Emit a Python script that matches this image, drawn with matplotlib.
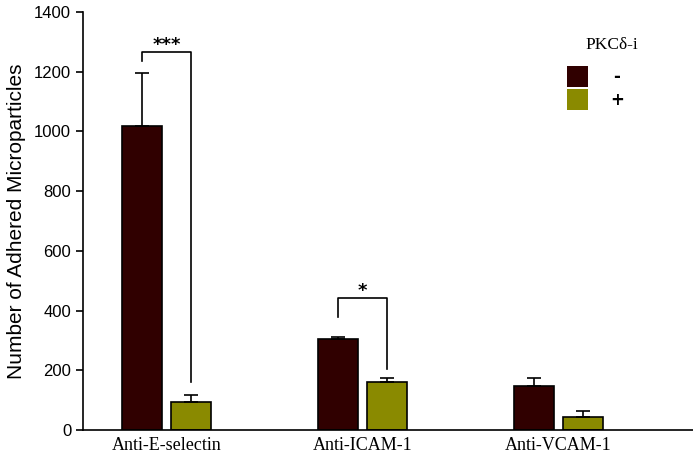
import matplotlib.pyplot as plt
import numpy as np

categorias = ['Anti-E-selectin', 'Anti-ICAM-1', 'Anti-VCAM-1']
sem_inibidor = [1018, 305, 148]
erro_sem = [178, 5, 27]
com_inibidor = [95, 160, 45]
erro_com = [22, 15, 18]
# comparações: (grupo, altura do topo, base esquerda, base direita, rótulo)
significancia = [(0, 1265, 1235, 160, '***'), (1, 442, 378, 204, '*')]

cor_escura = '#300000'
cor_oliva = '#8a8a00'

fig = plt.figure(figsize=(6.93, 4.54), dpi=100)
ax = fig.add_axes([0.1198, 0.0529, 0.8802, 0.9207])

x = np.arange(len(categorias))
larg = 0.204
desl = 0.125

ax.bar(x - desl, sem_inibidor, larg, color=cor_escura, edgecolor='black', linewidth=1.2,
       yerr=[np.zeros(3), erro_sem], error_kw=dict(ecolor='black', elinewidth=1.2, capsize=5, capthick=1.2))
ax.bar(x + desl, com_inibidor, larg, color=cor_oliva, edgecolor='black', linewidth=1.2,
       yerr=[np.zeros(3), erro_com], error_kw=dict(ecolor='black', elinewidth=1.2, capsize=5, capthick=1.2))

for g, topo, base_e, base_d, rot in significancia:
    xe, xd = g - desl, g + desl
    ax.plot([xe, xe, xd, xd], [base_e, topo, topo, base_d], color='black', lw=1.2)
    ax.text(g, topo - 5, rot, ha='center', va='bottom', fontsize=13, fontweight='bold')

ax.set_xlim(-0.426, 2.686)
ax.set_ylim(0, 1400)
ax.set_yticks(range(0, 1401, 200))
ax.set_xticks(x)
ax.set_xticklabels(categorias, family='Liberation Serif', fontsize=13)
ax.tick_params(axis='x', length=0, pad=5)
ax.tick_params(axis='y', length=5, width=1.2, labelsize=12)
for lbl in ax.get_yticklabels():
    lbl.set_family('Liberation Sans')
ax.spines['top'].set_visible(False)
ax.spines['right'].set_visible(False)
ax.spines['left'].set_linewidth(1.2)
ax.spines['bottom'].set_linewidth(1.2)
ax.set_ylabel('Number of Adhered Microparticles', family='Liberation Sans', fontsize=15, labelpad=6)

# legenda manual
fig.text(612 / 693, 1 - 45 / 454, 'PKCδ-i', family='Liberation Serif', fontsize=12.5, ha='center', va='center')
fig.patches.append(plt.Rectangle((567 / 693, 1 - 87 / 454), 21 / 693, 21 / 454, transform=fig.transFigure,
                                 facecolor=cor_escura, edgecolor='none'))
fig.patches.append(plt.Rectangle((567 / 693, 1 - 110 / 454), 21 / 693, 21 / 454, transform=fig.transFigure,
                                 facecolor=cor_oliva, edgecolor='none'))
fig.text(617 / 693, 1 - 77 / 454, '-', fontsize=12, fontweight='bold', ha='center', va='center')
fig.text(617 / 693, 1 - 100 / 454, '+', fontsize=12, fontweight='bold', ha='center', va='center')

fig.savefig('out.png', dpi=100)
